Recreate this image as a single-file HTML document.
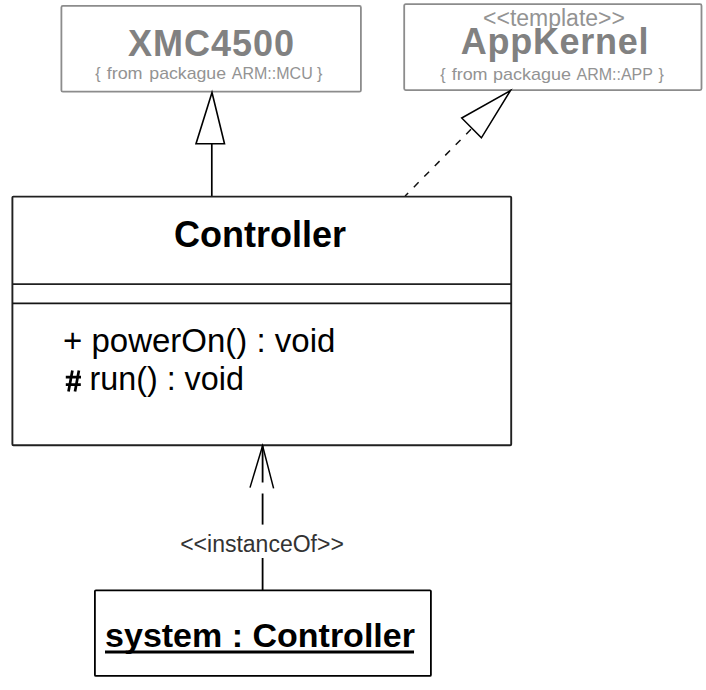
<!DOCTYPE html>
<html>
<head>
<meta charset="utf-8">
<style>
html,body{margin:0;padding:0;background:#fff;width:706px;height:690px;overflow:hidden;}
svg{display:block;}
text{font-family:"Liberation Sans", sans-serif;}
</style>
</head>
<body>
<svg width="706" height="690" viewBox="0 0 706 690">
  <rect x="0" y="0" width="706" height="690" fill="#fff"/>

  <!-- XMC4500 box -->
  <rect x="61.4" y="5.9" width="299.5" height="85.8" rx="1.5" fill="#fff" stroke="#8c8c8c" stroke-width="1.8"/>
  <text x="211.5" y="56" text-anchor="middle" font-size="36" font-weight="bold" fill="#818181" letter-spacing="1.0">XMC4500</text>
  <text x="95.2" y="78.5" font-size="16" fill="#939393">{</text>
  <text transform="translate(106.66,78.5) scale(1.123,1)" x="0" y="0" font-size="16" fill="#939393">from</text>
  <text transform="translate(149.29,78.5) scale(1.107,1)" x="0" y="0" font-size="16" fill="#939393">packague</text>
  <text x="231.8" y="78.5" font-size="16" fill="#939393">ARM::MCU</text>
  <text x="316.9" y="78.5" font-size="16" fill="#939393">}</text>

  <!-- AppKernel box -->
  <rect x="404.2" y="4.2" width="297.3" height="85.9" rx="1.5" fill="#fff" stroke="#8c8c8c" stroke-width="1.8"/>
  <text x="554" y="26.2" text-anchor="middle" font-size="23" fill="#939393">&lt;&lt;template&gt;&gt;</text>
  <text x="555" y="54" text-anchor="middle" font-size="36" font-weight="bold" fill="#818181" letter-spacing="0.7">AppKernel</text>
  <text x="440.2" y="80" font-size="16" fill="#939393">{</text>
  <text transform="translate(451.66,80) scale(1.123,1)" x="0" y="0" font-size="16" fill="#939393">from</text>
  <text transform="translate(493.07,80) scale(1.125,1)" x="0" y="0" font-size="16" fill="#939393">packague</text>
  <text x="576.5" y="80" font-size="16" fill="#939393">ARM::APP</text>
  <text x="658.4" y="80" font-size="16" fill="#939393">}</text>

  <!-- Generalization arrow -->
  <line x1="211.8" y1="143" x2="211.8" y2="196" stroke="#000" stroke-width="1.7"/>
  <polygon points="212,92.5 196,143.7 224.5,143.7" fill="#fff" stroke="#000" stroke-width="1.6" stroke-linejoin="miter"/>

  <!-- Realization arrow (dashed) -->
  <line x1="472.1" y1="128.2" x2="405.1" y2="196" stroke="#111" stroke-width="1.5" stroke-dasharray="6.8 8.1" stroke-dashoffset="13.3"/>
  <polygon points="510.5,90.5 461.7,118 481.4,137.8" fill="#fff" stroke="#000" stroke-width="1.5"/>

  <!-- Controller box -->
  <rect x="12.4" y="196.6" width="498.8" height="248.7" rx="1" fill="#fff" stroke="#202020" stroke-width="1.9"/>
  <line x1="12.4" y1="284.1" x2="511.2" y2="284.1" stroke="#202020" stroke-width="1.9"/>
  <line x1="12.4" y1="303.4" x2="511.2" y2="303.4" stroke="#151515" stroke-width="1.9"/>
  <text x="260" y="247" text-anchor="middle" font-size="36" font-weight="bold" fill="#000">Controller</text>
  <text x="63" y="351.5" font-size="33" fill="#000">+ powerOn() : void</text>
  <path d="M72.4 370.5 L68.5 391.5 M78.9 370.5 L75 391.5 M65.8 377.2 H81 M65.8 384.7 H80.8" stroke="#000" stroke-width="2.7" fill="none"/>
  <text x="89.5" y="389.5" font-size="32.3" fill="#000">run() : void</text>

  <!-- instanceOf dependency -->
  <line x1="262.6" y1="446" x2="262.6" y2="482.5" stroke="#000" stroke-width="1.8"/>
  <line x1="262.6" y1="493.5" x2="262.6" y2="524.6" stroke="#000" stroke-width="1.8"/>
  <line x1="262.6" y1="558" x2="262.6" y2="590" stroke="#000" stroke-width="1.8"/>
  <polyline points="250,487.6 262.6,445.8 273.6,488.4" fill="none" stroke="#000" stroke-width="1.5" stroke-linejoin="miter"/>
  <text x="262" y="552" text-anchor="middle" font-size="23" fill="#333">&lt;&lt;instanceOf&gt;&gt;</text>

  <!-- system box -->
  <rect x="94.9" y="590.3" width="336" height="85.6" rx="1" fill="#fff" stroke="#000" stroke-width="1.8"/>
  <text x="260" y="646.5" text-anchor="middle" font-size="34" font-weight="bold" fill="#000">system : Controller</text>
  <rect x="105" y="650.5" width="309" height="3" fill="#000"/>
</svg>
</body>
</html>
